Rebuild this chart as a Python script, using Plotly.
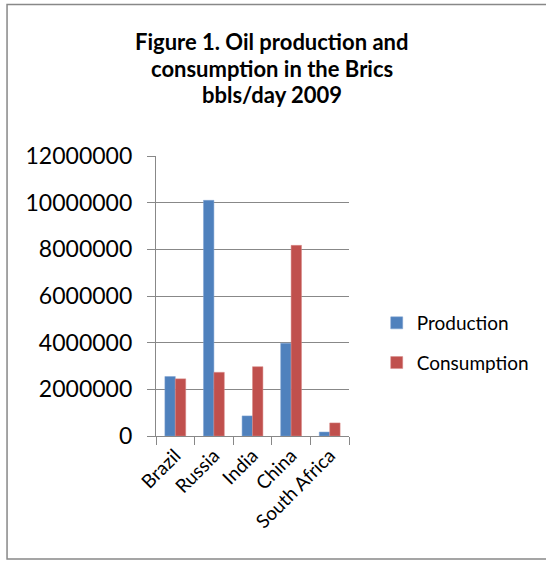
import plotly.graph_objects as go

countries = ["Brazil", "Russia", "India", "China", "South Africa"]
production = [2550000, 10100000, 860000, 3980000, 170000]
consumption = [2450000, 2730000, 2970000, 8170000, 560000]
y_ticks = [0, 2000000, 4000000, 6000000, 8000000, 10000000, 12000000]
title_lines = ["Figure 1. Oil production and", "consumption in the Brics", "bbls/day 2009"]

W, H = 546, 561
# target plot area in screen pixels
PX0, PX1, PY0, PY1 = 156, 351, 156, 436
L = PX0
T = PY0
R = W - PX1
B = H - PY1

fig = go.Figure()
fig.add_trace(go.Bar(name="Production", x=countries, y=production,
                     marker=dict(color="#4F81BD", line=dict(color="#7FA3D3", width=0.5)),
                     legendgroup="p"))
fig.add_trace(go.Bar(name="Consumption", x=countries, y=consumption,
                     marker=dict(color="#C0504D", line=dict(color="#D98A88", width=0.5)),
                     legendgroup="c"))

pw = PX1 - PX0
ph = PY1 - PY0
def px_x(p):
    return (p - PX0) / pw
def px_y(p):
    return (PY1 - p) / ph

fig.update_layout(
    width=W, height=H,
    margin=dict(l=L, r=R, t=T, b=B, pad=0),
    paper_bgcolor="white", plot_bgcolor="white",
    barmode="group", bargap=0.46, bargroupgap=0,
    font=dict(family="Lato", color="black"),
    showlegend=True,
    legend=dict(x=px_x(379), y=px_y(343), xanchor="left", yanchor="middle",
                font=dict(size=19, family="Lato"), traceorder="grouped",
                tracegroupgap=12, itemwidth=30, bgcolor="rgba(0,0,0,0)"),
    xaxis=dict(showline=True, linecolor="#888888", linewidth=1.3,
               ticks="outside", ticklen=8, tickcolor="#888888", tickwidth=1.3,
               tickson="boundaries", tickangle=-45,
               tickfont=dict(size=19, family="Lato"), showgrid=False),
    yaxis=dict(range=[0, 12000000], tickvals=y_ticks,
               ticktext=[str(v) for v in y_ticks],
               showline=True, linecolor="#888888", linewidth=1.3,
               ticks="outside", ticklen=8, tickcolor="#888888", tickwidth=1.3,
               showgrid=True, gridcolor="#888888", gridwidth=1.3,
               tickfont=dict(size=23, family="Lato"), ticklabelstandoff=10,
               zeroline=False),
)

for i, line in enumerate(title_lines):
    fig.add_annotation(text="<b>%s</b>" % line, xref="paper", yref="paper",
                       x=px_x(273), y=px_y(41.5 + i * 26.5), xanchor="center", yanchor="middle",
                       showarrow=False, font=dict(size=22, family="Lato", color="black"))

fig.add_shape(type="rect", xref="paper", yref="paper",
              x0=px_x(5.5), x1=px_x(620), y0=px_y(559), y1=px_y(4.5),
              line=dict(color="#888888", width=1.5), fillcolor="rgba(0,0,0,0)", layer="below")

fig.write_html("out.html", config={"displayModeBar": False},
               post_script="document.body.style.margin='0px';")
